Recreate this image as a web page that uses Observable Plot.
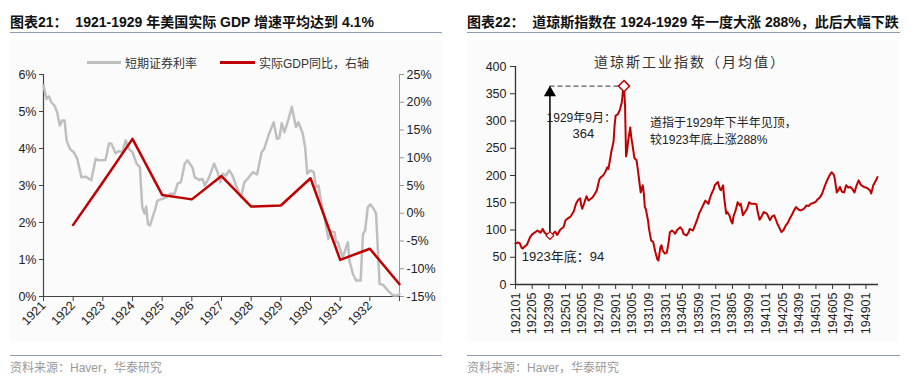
<!DOCTYPE html>
<html><head><meta charset="utf-8">
<script src="https://cdn.jsdelivr.net/npm/d3@7"></script>
<script src="https://cdn.jsdelivr.net/npm/@observablehq/plot@0.6"></script>
<style>
body{margin:0;background:#fff;}
#root{position:relative;width:914px;height:379px;overflow:hidden;font-family:"Liberation Sans",Arial,"Noto Sans CJK SC",sans-serif;color:#222;}
.title{position:absolute;top:11px;font-size:14px;font-weight:bold;white-space:nowrap;color:#111;}
.rule{position:absolute;height:1px;background:#8c9bb0;}
.bg{position:absolute;background:#fbfbfb;}
.src{position:absolute;top:358px;font-size:12px;color:#999;white-space:nowrap;}
.chart{position:absolute;top:40px;}
.chart svg{overflow:visible;}
.leg{position:absolute;font-size:12px;white-space:nowrap;color:#333;}
.legline{position:absolute;height:3px;}
</style>
</head><body>
<div id="root">
  <div class="title" style="left:10px">图表21：&nbsp; 1921-1929 年美国实际 GDP 增速平均达到 4.1%</div>
  <div class="title" style="left:467px">图表22：&nbsp; 道琼斯指数在 1924-1929 年一度大涨 288%，此后大幅下跌</div>
  <div class="rule" style="left:10px;width:432px;top:32px"></div>
  <div class="rule" style="left:467px;width:433px;top:32px"></div>
  <div class="bg" style="left:10px;top:40px;width:432px;height:302px"></div>
  <div class="bg" style="left:467px;top:40px;width:431px;height:302px"></div>
  <div class="rule" style="left:10px;width:432px;top:355px"></div>
  <div class="rule" style="left:467px;width:433px;top:355px"></div>
  <div class="src" style="left:10px">资料来源：Haver，华泰研究</div>
  <div class="src" style="left:467px">资料来源：Haver，华泰研究</div>
  <div class="chart" id="c1" style="left:0px"></div>
  <div class="chart" id="c2" style="left:457px"></div>
  <div class="legline" style="left:87px;top:61px;width:34px;background:#bfbfbf"></div>
  <div class="leg" style="left:125px;top:54px">短期证券利率</div>
  <div class="legline" style="left:220px;top:61px;width:35px;background:#c00000"></div>
  <div class="leg" style="left:259px;top:54px">实际GDP同比，右轴</div>
  <div class="leg" style="left:690px;top:51px;transform:translateX(-50%);font-size:14px;letter-spacing:2px">道琼斯工业指数（月均值）</div>
</div>
<script>
// ---------- Panel 1 data ----------
const rateYear = [1921.00,1921.10,1921.18,1921.26,1921.37,1921.46,1921.55,1921.63,1921.71,1921.78,1921.89,
 1922.02,1922.14,1922.28,1922.42,1922.61,1922.76,1922.87,1923.09,1923.21,1923.29,1923.43,1923.54,1923.66,1923.77,1923.88,
 1924.00,1924.14,1924.25,1924.33,1924.41,1924.46,1924.52,1924.59,1924.75,1924.84,1925.00,1925.15,1925.28,1925.42,1925.52,
 1925.63,1925.76,1925.85,1926.02,1926.10,1926.25,1926.36,1926.44,1926.58,1926.75,1926.87,1926.96,1927.04,1927.15,1927.26,
 1927.37,1927.49,1927.66,1927.77,1927.88,1928.05,1928.20,1928.35,1928.44,1928.58,1928.76,1928.87,1928.95,1929.03,1929.12,
 1929.23,1929.37,1929.51,1929.59,1929.74,1929.82,1929.89,1930.00,1930.11,1930.19,1930.27,1930.36,1930.47,1930.60,1930.70,
 1930.81,1930.86,1930.92,1931.09,1931.26,1931.31,1931.43,1931.54,1931.69,1931.77,1931.84,1931.93,1932.02,1932.13,1932.21,
 1932.33,1932.44,1932.61,1932.78,1932.95,1933.00];
const rateValue = [5.70,5.34,5.41,5.25,5.16,4.98,4.62,4.76,4.76,4.22,3.99,
 3.90,3.72,3.22,3.24,3.14,3.72,3.68,3.69,4.14,4.13,3.87,3.93,3.90,4.22,3.99,
 3.90,3.59,3.49,2.41,2.24,2.43,1.96,1.92,2.32,2.59,2.64,2.68,2.78,2.78,3.05,
 3.09,3.59,3.68,3.49,3.22,3.15,3.18,3.00,3.22,3.59,3.36,3.09,3.32,3.27,3.41,
 3.27,3.00,2.68,3.09,3.18,3.36,3.30,3.90,3.99,4.35,4.71,4.26,4.29,4.68,4.44,
 4.71,5.12,4.58,4.71,4.40,4.03,3.32,3.41,3.36,2.95,3.00,2.55,2.14,1.56,1.76,
 1.74,1.47,1.47,1.06,1.47,0.97,0.61,0.43,0.43,1.69,1.78,2.41,2.49,2.37,2.24,
 0.34,0.32,0.16,0.03,0.03,0.07];
const gdpYear = [1922,1923,1924,1925,1926,1927,1928,1929,1930,1931,1932,1933];
const gdpValue = [-2.1,5.6,13.4,3.3,2.5,6.7,1.2,1.4,6.3,-8.4,-6.4,-12.8];
const leftTicks = [0,1,2,3,4,5,6];
const rightTicks = [-15,-10,-5,0,5,10,15,20,25];
const yearTicks = [1921,1922,1923,1924,1925,1926,1927,1928,1929,1930,1931,1932,1933];
const yearLabels = ["1921","1922","1923","1924","1925","1926","1927","1928","1929","1930","1931","1932",""];

// ---------- Panel 2 data ----------
// months since 1921-01
const dowMonth = [0,2,4,6,7,9,11,14,16,19,21,22,24,26,28,30,33,34,36,38,40,43,46,48,50,53,56,58,60,62,63,64,66,68,70,72,74,76,78,80,81,82,84,86,88,89,90,92,94,95,96,98,100,102,103,104,105,106,107,108,110,111,112,114,116,117,118,120,122,123,124,125,127,128,130,132,134,136,137,139,140,141,143,145,147,148,150,152,153,155,158,160,161,164,166,167,170,172,174,176,179,181,182,185,186,188,190,191,193,194,196,197,199,200,202,203,205,207,208,209,211,213,215,216,218,220,222,224,226,229,231,232,234,236,238,241,243,244,246,248,250,251,253,255,257,259,261,263,265,267,269,271,273,275,277,279,281,283,286,288,290,292,294,296,298,300,301,303,305,306,308,310,311,313,315,317,319,321,323,325,327,329,331,334,336,338,340,341,343,345,347];
const dowValue = [75,77,76,67,66,70,73,87,92,96,99,98,95,102,95,92,88,90,93,97,91,101,105,118,121,125,135,148,155,158,145,139,150,162,154,157,160,166,173,190,195,197,200,206,215,212,222,245,262,292,310,312,320,335,355,364,330,235,245,264,288,270,258,232,228,215,200,169,182,167,142,138,118,102,81,78,60,46,44,69,72,63,57,58,80,96,99,96,93,100,105,100,93,90,96,102,99,108,118,130,142,150,154,148,156,167,175,182,186,188,175,173,182,160,130,133,127,115,112,125,136,151,145,148,127,133,139,151,148,148,147,135,119,125,133,130,122,118,125,127,117,112,104,96,100,108,113,121,128,136,142,138,136,137,140,145,144,148,150,152,157,160,167,178,188,196,200,206,202,195,169,175,179,170,169,182,178,179,175,169,182,191,183,179,178,176,172,167,182,189,197];
const dowTickMonth = [0,16,32,48,64,80,96,112,128,144,160,176,192,208,224,240,256,272,288,304,320,336];
const dowTickLabels = ["192101","192205","192309","192501","192605","192709","192901","193005","193109","193301","193405","193509","193701","193805","193909","194101","194205","194309","194501","194605","194709","194901"];
const dowYTicks = [0,50,100,150,200,250,300,350,400];
const peakMonth = 104, peakValue = 364;
const baseMonth = 33, baseValue = 90;
const notes = ["1929年9月：","364","道指于1929年下半年见顶，","较1923年底上涨288%","1923年底：94"];

const FONT = '"Liberation Sans", Arial, "Noto Sans CJK SC", sans-serif';
const RED = "#c00000";

// ---------- Panel 1 ----------
const toLeft = g => (g + 15) / 40 * 6;
const rates = rateYear.map((y, i) => ({y, v: rateValue[i]}));
const gdp = gdpYear.map((y, i) => ({y, v: toLeft(gdpValue[i])}));
const c1 = Plot.plot({
  width: 457, height: 300,
  marginTop: 34, marginBottom: 44, marginLeft: 43, marginRight: 58,
  style: {fontFamily: FONT, fontSize: "12px", background: "transparent", color: "#222", overflow: "visible"},
  x: {domain: [1921, 1933]},
  y: {domain: [0, 6]},
  marks: [
    Plot.axisY(leftTicks, {anchor: "left", label: null, tickSize: 4, tickPadding: 3, tickFormat: d => d + "%", stroke: "#444", fill: "#222", fontSize: 12.5}),
    Plot.axisY(rightTicks.map(toLeft), {anchor: "right", label: null, tickSize: 4, tickPadding: 3, tickFormat: d => Math.round(d / 6 * 40 - 15) + "%", stroke: "#999", fill: "#222", fontSize: 12.5}),
    Plot.axisX(yearTicks, {anchor: "bottom", label: null, tickSize: 5, tickPadding: 2, tickRotate: -45, tickFormat: d => yearLabels[yearTicks.indexOf(d)], stroke: "#444", fill: "#222", fontSize: 12.5}),
    Plot.ruleX([1921], {stroke: "#444", strokeWidth: 1.2}),
    Plot.ruleX([1933], {stroke: "#999", strokeWidth: 1}),
    Plot.ruleY([0], {stroke: "#444", strokeWidth: 1.2}),
    Plot.line(rates, {x: "y", y: "v", stroke: "#bfbfbf", strokeWidth: 2.5, curve: "linear"}),
    Plot.line(gdp, {x: "y", y: "v", stroke: RED, strokeWidth: 2.5})
  ]
});
document.getElementById("c1").appendChild(c1);

// ---------- Panel 2 ----------
const dow = dowMonth.map((m, i) => ({m, v: dowValue[i]}));
const c2 = Plot.plot({
  width: 457, height: 300,
  marginTop: 26, marginBottom: 56, marginLeft: 58, marginRight: 36,
  style: {fontFamily: FONT, fontSize: "12px", background: "transparent", color: "#222", overflow: "visible"},
  x: {domain: [0, 348]},
  y: {domain: [0, 400]},
  marks: [
    Plot.axisY(dowYTicks, {anchor: "left", label: null, tickSize: 5, tickPadding: 4, stroke: "#333", fill: "#222", fontSize: 12.5}),
    Plot.axisX(dowTickMonth, {anchor: "bottom", label: null, tickSize: 5, tickPadding: 3, tickRotate: -90, tickFormat: d => dowTickLabels[dowTickMonth.indexOf(d)], stroke: "#333", fill: "#222", fontSize: 12.5}),
    Plot.ruleX([0], {stroke: "#333", strokeWidth: 1.3}),
    Plot.ruleY([0], {stroke: "#333", strokeWidth: 1.3}),
    Plot.ruleY([peakValue], {x1: baseMonth, x2: peakMonth, stroke: "#333", strokeWidth: 1, strokeDasharray: "5,3"}),
    Plot.ruleX([baseMonth], {y1: baseValue + 6, y2: peakValue - 8, stroke: "#000", strokeWidth: 1.5}),
    Plot.dot([{m: baseMonth, v: peakValue - 12}], {x: "m", y: "v", symbol: "triangle", fill: "#000", stroke: "none", r: 4.5}),
    Plot.line(dow, {x: "m", y: "v", stroke: RED, strokeWidth: 2}),
    Plot.dot([{m: peakMonth, v: peakValue}], {x: "m", y: "v", symbol: "diamond2", fill: "#fff", stroke: RED, strokeWidth: 1.5, r: 5}),
    Plot.dot([{m: baseMonth, v: baseValue}], {x: "m", y: "v", symbol: "diamond2", fill: "#fff", stroke: RED, strokeWidth: 1.2, r: 3.5}),
    Plot.text([notes[0]], {x: 63, y: 305, text: d => d, fontSize: 12, fill: "#222"}),
    Plot.text([notes[1]], {x: 65, y: 276, text: d => d, fontSize: 13, fill: "#222"}),
    Plot.text([notes[2]], {x: 129, y: 296, text: d => d, fontSize: 12, textAnchor: "start", fill: "#222"}),
    Plot.text([notes[3]], {x: 129, y: 265, text: d => d, fontSize: 12, textAnchor: "start", fill: "#222"}),
    Plot.text([notes[4]], {x: 6, y: 50, text: d => d, fontSize: 13, textAnchor: "start", fill: "#222"})
  ]
});
document.getElementById("c2").appendChild(c2);
</script>
</body></html>
